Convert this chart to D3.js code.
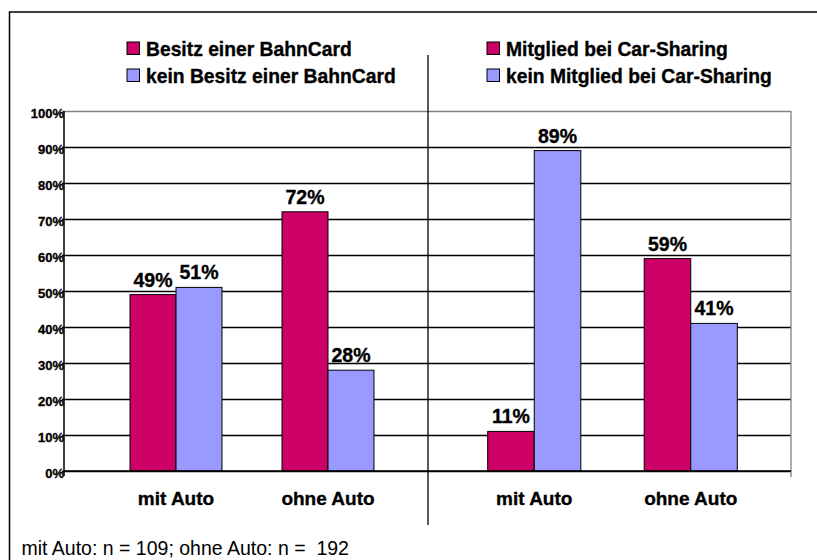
<!DOCTYPE html>
<html>
<head>
<meta charset="utf-8">
<script src="https://cdn.jsdelivr.net/npm/d3@7"></script>
<style>
  body { margin: 0; background: #fff; overflow: hidden; }
  svg { display: block; }
  text { font-family: Arial, "Liberation Sans", sans-serif; }
  .heavy { stroke: #000; stroke-width: 0.35px; }
</style>
</head>
<body>
<svg width="817" height="560"></svg>
<script>
// data
const categories = ['mit Auto', 'ohne Auto'];
const bahnCardYes = [49, 72];
const bahnCardNo = [51, 28];
const carSharingYes = [11, 59];
const carSharingNo = [89, 41];
const yTicks = [0, 10, 20, 30, 40, 50, 60, 70, 80, 90, 100];
const legendLeft = ['Besitz einer BahnCard', 'kein Besitz einer BahnCard'];
const legendRight = ['Mitglied bei Car-Sharing', 'kein Mitglied bei Car-Sharing'];
const footNote = 'mit Auto: n = 109; ohne Auto: n =  192';

const colors = ['#cc0066', '#9999ff'];

const svg = d3.select('svg');
const plot = { left: 64, right: 791, top: 111, bottom: 471 };
const sepX = 428;

// outer frame (runs off the right and bottom edge)
svg.append('rect')
    .attr('x', 9.5).attr('y', 12)
    .attr('width', 830).attr('height', 570)
    .attr('fill', 'none').attr('stroke', '#000').attr('stroke-width', 1.5);

const y = d3.scaleLinear().domain([0, 100]).range([plot.bottom, plot.top]);

// gridlines + y labels
const yAxis = d3.axisLeft(y)
    .tickValues(yTicks)
    .tickSize(-(plot.right - plot.left))
    .tickFormat(d => d + '%');

const yg = svg.append('g')
    .attr('transform', `translate(${plot.left},0)`)
    .call(yAxis);
yg.select('.domain').remove();
yg.selectAll('.tick line')
    .attr('stroke', d => d === 100 ? '#808080' : '#000')
    .attr('x1', -2)
    .attr('stroke-width', 1.3);
yg.selectAll('.tick text')
    .attr('x', 0)
    .attr('dy', 6.5)
    .attr('text-anchor', 'end')
    .attr('fill', '#000')
    .attr('class', 'heavy')
    .attr('font-weight', 'bold')
    .attr('font-size', 13)
    .attr('font-family', 'Arial, "Liberation Sans", sans-serif');

// right border of plot area
svg.append('line')
    .attr('x1', plot.right).attr('x2', plot.right)
    .attr('y1', plot.top).attr('y2', plot.bottom + 6)
    .attr('stroke', '#808080').attr('stroke-width', 1.3);

// y axis line
svg.append('line')
    .attr('x1', plot.left).attr('x2', plot.left)
    .attr('y1', plot.top).attr('y2', plot.bottom + 5)
    .attr('stroke', '#000').attr('stroke-width', 1.5);

// separator
svg.append('line')
    .attr('x1', sepX).attr('x2', sepX)
    .attr('y1', 55).attr('y2', 525)
    .attr('stroke', '#000').attr('stroke-width', 1.3);

const panels = [
    { yes: bahnCardYes, no: bahnCardNo, legend: legendLeft, range: [100, 404], pad: 0.395, legendX: 127 },
    { yes: carSharingYes, no: carSharingNo, legend: legendRight, range: [456, 769], pad: 0.405, legendX: 487 }
];

panels.forEach(p => {
    const x = d3.scaleBand()
        .domain(categories)
        .range(p.range)
        .paddingInner(p.pad)
        .paddingOuter(p.pad / 2);
    const xs = d3.scaleBand()
        .domain([0, 1])
        .range([0, x.bandwidth()]);

    const rows = categories.map((c, i) => ({ cat: c, vals: [p.yes[i], p.no[i]] }));

    const grp = svg.append('g').selectAll('g')
        .data(rows)
        .join('g')
        .attr('transform', d => `translate(${x(d.cat)},0)`);

    grp.selectAll('rect')
        .data(d => d.vals)
        .join('rect')
        .attr('x', (d, i) => xs(i))
        .attr('y', d => y(d))
        .attr('width', xs.bandwidth())
        .attr('height', d => y(0) - y(d))
        .attr('fill', (d, i) => colors[i])
        .attr('stroke', '#000')
        .attr('stroke-width', 1);

    grp.selectAll('text.val')
        .data(d => d.vals)
        .join('text')
        .attr('class', 'val heavy')
        .attr('x', (d, i) => xs(i) + xs.bandwidth() / 2)
        .attr('y', d => y(d) - 8)
        .attr('text-anchor', 'middle')
        .attr('font-weight', 'bold')
        .attr('font-size', 19.5)
        .text(d => d + '%');

    // category labels
    svg.append('g').selectAll('text')
        .data(categories)
        .join('text')
        .attr('class', 'heavy')
        .attr('x', d => x(d) + x.bandwidth() / 2)
        .attr('y', 505)
        .attr('text-anchor', 'middle')
        .attr('font-weight', 'bold')
        .attr('font-size', 19)
        .text(d => d);

    // legend
    const lg = svg.append('g').selectAll('g')
        .data(p.legend)
        .join('g')
        .attr('transform', (d, i) => `translate(${p.legendX},${42 + i * 27})`);
    lg.append('rect')
        .attr('width', 12.5).attr('height', 12.5)
        .attr('fill', (d, i) => colors[i])
        .attr('stroke', '#000').attr('stroke-width', 1);
    lg.append('text')
        .attr('class', 'heavy')
        .attr('x', 19)
        .attr('y', 14)
        .attr('font-weight', 'bold')
        .attr('font-size', 19.3)
        .text(d => d);
});

// x axis line
svg.append('line')
    .attr('x1', plot.left).attr('x2', plot.right)
    .attr('y1', plot.bottom).attr('y2', plot.bottom)
    .attr('stroke', '#000').attr('stroke-width', 1.5);

// footnote
svg.append('text')
    .attr('x', 21.5)
    .attr('y', 555)
    .attr('font-size', 19.5)
    .style('white-space', 'pre')
    .text(footNote);
</script>
</body>
</html>
